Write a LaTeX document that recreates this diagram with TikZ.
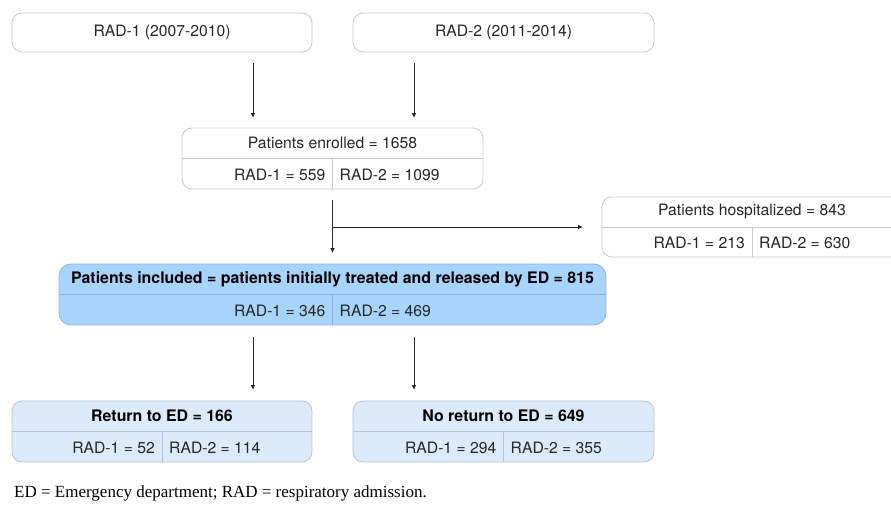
\documentclass[tikz,border=0pt]{standalone}
\usepackage{fontspec}
\setsansfont{TeX Gyre Heros}
\newfontfamily\notefont{Liberation Serif}
\usepackage{xcolor}
\definecolor{boxgray}{RGB}{200,200,200}
\definecolor{incfill}{RGB}{168,211,251}
\definecolor{incdraw}{RGB}{140,180,224}
\definecolor{retfill}{RGB}{220,235,251}
\definecolor{retdraw}{RGB}{184,196,212}
\definecolor{arrgray}{RGB}{40,40,40}
\usepackage{tikz}
\usetikzlibrary{positioning}
\usetikzlibrary{arrows.meta}

\begin{document}
\begin{tikzpicture}[x=1pt,y=1pt,
  plainbox/.style={draw=boxgray,line width=0.8pt,rounded corners=10pt,inner sep=0pt},
  incbox/.style={draw=incdraw,fill=incfill,line width=0.8pt,rounded corners=12pt,inner sep=0pt},
  retbox/.style={draw=retdraw,fill=retfill,line width=0.8pt,rounded corners=10pt,inner sep=0pt},
  lbl/.style={font=\sffamily\fontsize{15.7}{18}\selectfont,text=black!85,inner xsep=7pt,inner ysep=0pt},
  head/.style={lbl,font=\sffamily\bfseries\fontsize{15.9}{18}\selectfont,text=black},
  divline/.style={draw=boxgray,line width=0.8pt},
  arr/.style={draw=arrgray,line width=0.9pt,-{Triangle[length=4.5pt,width=4pt]}}]
\useasboundingbox (0,0) rectangle (891,506);

\node[plainbox,minimum width=300pt,minimum height=39pt] (rad1) at (162,473.5) {};
\node[lbl] (rad1txt) at (rad1.center) {RAD-1 (2007-2010)};
\node[plainbox,minimum width=301pt,minimum height=39pt] (rad2) at (503.5,473.5) {};
\node[lbl] (rad2txt) at (rad2.center) {RAD-2 (2011-2014)};

\node[plainbox,minimum width=301pt,minimum height=61pt] (enr) at (332.5,347.5) {};
\draw[divline] (enr.west) -- (enr.east);
\draw[divline] (enr.center) -- (enr.south);
\node[lbl] (enrtop) at ([yshift=-15.5pt]enr.north) {Patients enrolled = 1658};
\node[lbl,anchor=east] (enr1) at ([yshift=15pt]enr.south) {RAD-1 = 559};
\node[lbl,anchor=west] (enr2) at ([yshift=15pt]enr.south) {RAD-2 = 1099};

\node[plainbox,minimum width=300pt,minimum height=60pt] (hosp) at (752,279) {};
\draw[divline] (hosp.west) -- (hosp.east);
\draw[divline] (hosp.center) -- (hosp.south);
\node[lbl] (hosptop) at ([yshift=-15pt]hosp.north) {Patients hospitalized = 843};
\node[lbl,anchor=east] (hosp1) at ([yshift=15pt]hosp.south) {RAD-1 = 213};
\node[lbl,anchor=west] (hosp2) at ([yshift=15pt]hosp.south) {RAD-2 = 630};

\node[incbox,minimum width=547pt,minimum height=61pt] (inc) at (332.5,211.5) {};
\draw[draw=incdraw,line width=0.8pt] (inc.west) -- (inc.east);
\draw[draw=incdraw,line width=0.8pt] (inc.center) -- (inc.south);
\node[head] (inctop) at ([yshift=-15.5pt]inc.north) {Patients included = patients initially treated and released by ED = 815};
\node[lbl,anchor=east] (inc1) at ([yshift=15pt]inc.south) {RAD-1 = 346};
\node[lbl,anchor=west] (inc2) at ([yshift=15pt]inc.south) {RAD-2 = 469};

\node[retbox,minimum width=300pt,minimum height=61pt] (ret) at (162,74.5) {};
\draw[draw=retdraw,line width=0.8pt] (ret.west) -- (ret.east);
\draw[draw=retdraw,line width=0.8pt] (ret.center) -- (ret.south);
\node[head] (rettop) at ([yshift=-15pt]ret.north) {Return to ED = 166};
\node[lbl,anchor=east] (ret1) at ([yshift=15pt]ret.south) {RAD-1 = 52};
\node[lbl,anchor=west] (ret2) at ([yshift=15pt]ret.south) {RAD-2 = 114};

\node[retbox,minimum width=301pt,minimum height=61pt] (noret) at (503.5,74.5) {};
\draw[draw=retdraw,line width=0.8pt] (noret.west) -- (noret.east);
\draw[draw=retdraw,line width=0.8pt] (noret.center) -- (noret.south);
\node[head] (noret top) at ([yshift=-15pt]noret.north) {No return to ED = 649};
\node[lbl,anchor=east] (noret1) at ([yshift=15pt]noret.south) {RAD-1 = 294};
\node[lbl,anchor=west] (noret2) at ([yshift=15pt]noret.south) {RAD-2 = 355};

\coordinate (left) at (253,0);
\coordinate (right) at (414,0);
\draw[arr,shorten <=11pt,shorten >=10pt] (rad1.south -| left) -- (enr.north -| left);
\draw[arr,shorten <=11pt,shorten >=10pt] (rad2.south -| right) -- (enr.north -| right);
\draw[arr,shorten <=11pt,shorten >=11pt] (enr.south) -- (inc.north);
\draw[arr,shorten >=19pt] (enr.south |- hosp.west) -- (hosp.west);
\draw[arr,shorten <=12pt,shorten >=11pt] (inc.south -| left) -- (ret.north -| left);
\draw[arr,shorten <=12pt,shorten >=11pt] (inc.south -| right) -- (noret.north -| right);

\node[anchor=base west,inner sep=0pt,font=\notefont\fontsize{17}{20}\selectfont] (note) at (14,9) {ED = Emergency department; RAD = respiratory admission.};
\end{tikzpicture}
\end{document}
